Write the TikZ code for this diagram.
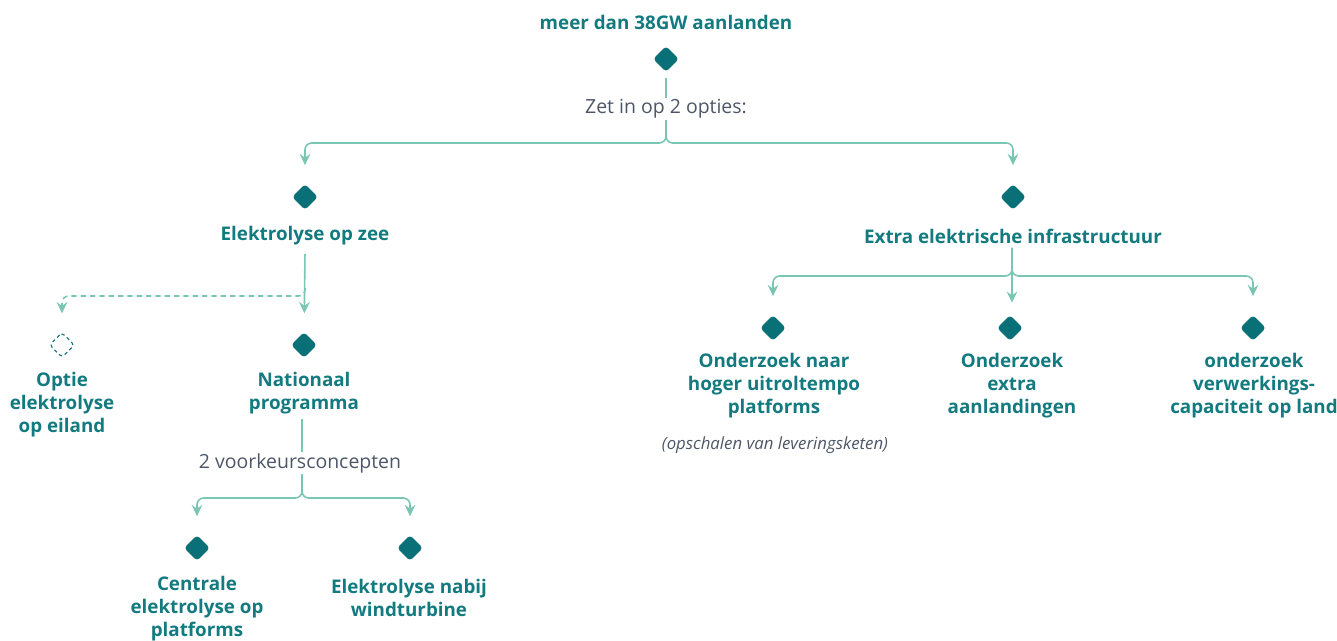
\documentclass[tikz,border=0pt]{standalone}
\usepackage{fontspec}
\setmainfont{Open Sans}
\usetikzlibrary{arrows.meta}

\definecolor{kopkleur}{HTML}{137A80}
\definecolor{ruitkleur}{HTML}{0A7078}
\definecolor{lijnkleur}{HTML}{78C6B3}
\definecolor{grijs}{HTML}{4D5668}

\tikzset{
    ruit/.style={rectangle, rotate=45, minimum size=13.6pt, inner sep=0pt,
        rounded corners=2.5pt, fill=ruitkleur},
    leeg/.style={rectangle, rotate=45, minimum size=13pt, inner sep=0pt,
        rounded corners=2.5pt, draw=ruitkleur, line width=0.8pt, dash pattern=on 2.6pt off 2.2pt},
    kop/.style={font=\bfseries\fontsize{14.1}{17.3}\selectfont, text=kopkleur, align=center},
    tussen/.style={font=\fontsize{14.6}{16}\selectfont, text=grijs, inner sep=1pt},
    noot/.style={font=\itshape\fontsize{12.6}{14}\selectfont, text=grijs},
    tak/.style={draw=lijnkleur, line width=1.2pt, rounded corners=5pt},
    pijl/.style={tak, -{Stealth[length=8.5pt, width=8pt, inset=3pt]}, shorten >=14pt},
}

\begin{document}
\begin{tikzpicture}[x=0.75pt, y=-0.75pt]
    \useasboundingbox (0,0) rectangle (1337,641);

    % bovenste knoop
    \node[kop] (t0) at (666,22) {meer dan 38GW aanlanden};
    \node[ruit] (d0) at (666,59) {};
    \node[tussen] (z0) at (666,109) {Zet in op 2 opties:};
    \coordinate (s0) at (666,143);

    % twee opties
    \node[ruit] (d1) at (305,197) {};
    \node[kop] (t1) at (305,236) {Elektrolyse op zee};
    \node[ruit] (d2) at (1013,197) {};
    \node[kop] (t2) at (1013,236) {Extra elektrische infrastructuur};

    % linker tak
    \coordinate (s1) at (305,296);
    \node[leeg] (d3) at (62,345) {};
    \node[kop] (t3) at (62,405) {Optie\\elektrolyse\\op eiland};
    \node[ruit] (d4) at (304,345) {};
    \node[kop] (t4) at (304,393.5) {Nationaal\\programma};
    \node[tussen] (z1) at (300,463) {2 voorkeursconcepten};
    \coordinate (s2) at (302,498);
    \node[ruit] (d5) at (197,548) {};
    \node[kop] (t5) at (197,609) {Centrale\\elektrolyse op\\platforms};
    \node[ruit] (d6) at (410,548) {};
    \node[kop] (t6) at (409,598) {Elektrolyse nabij\\windturbine};

    % rechter tak
    \coordinate (s3) at (1012,276);
    \node[ruit] (d7) at (773,328) {};
    \node[kop] (t7) at (774,386) {Onderzoek naar\\hoger uitroltempo\\platforms};
    \node[noot] (n7) at (775,445) {(opschalen van leveringsketen)};
    \node[ruit] (d8) at (1010,328) {};
    \node[kop] (t8) at (1012,386) {Onderzoek\\extra\\aanlandingen};
    \node[ruit] (d9) at (1253,328) {};
    \node[kop] (t9) at (1254,386) {onderzoek\\verwerkings-\\capaciteit op land};

    % verbindingen
    \draw[tak, shorten <=4.5pt] (d0) -- (z0);
    \draw[pijl] (z0.south) -- (s0) -| (d1);
    \draw[pijl] (z0.south) -- (s0) -| (d2);

    \draw[pijl, shorten <=3pt] (t1.south) -- (d4);
    \draw[pijl, dash pattern=on 4pt off 3pt] ([yshift=6pt]s1) -- (s1) -| (d3);

    \draw[tak] (t4.south -| s2) -- (z1.north -| s2);
    \draw[pijl] (z1.south -| s2) -- (s2) -| (d5);
    \draw[pijl] (z1.south -| s2) -- (s2) -| (d6);

    \draw[pijl] (t2.south -| s3) -- (s3) -| (d7);
    \draw[pijl] (t2.south -| s3) -- (d8.north -| s3);
    \draw[pijl] (t2.south -| s3) -- (s3) -| (d9);

\end{tikzpicture}
\end{document}
